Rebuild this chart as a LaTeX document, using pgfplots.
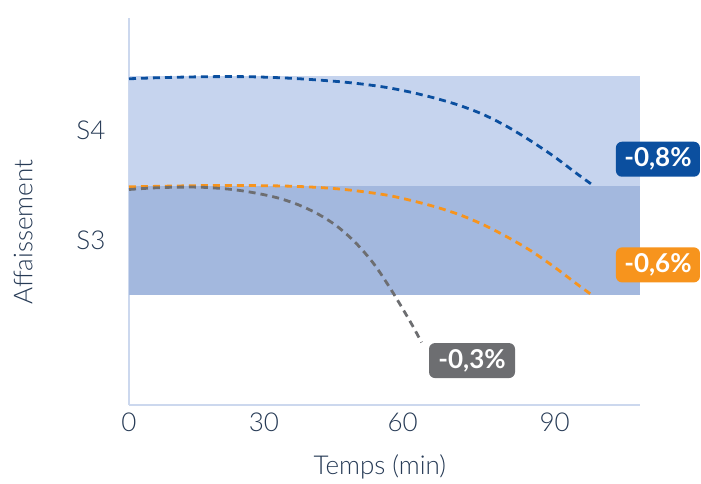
\documentclass[border=0pt]{standalone}
\usepackage{fontspec}
\setmainfont{Lato}[UprightFont=* Light, BoldFont=* Bold]
\usepackage{pgfplots}
\pgfplotsset{compat=1.18}
\definecolor{txt}{HTML}{263A55}
\definecolor{bandA}{HTML}{C6D4EE}
\definecolor{bandB}{HTML}{A3B8DE}
\definecolor{axl}{HTML}{CCD8EE}
\definecolor{cblue}{HTML}{0B4F9F}
\definecolor{corange}{HTML}{F7941D}
\definecolor{cgray}{HTML}{6D6E71}
\begin{document}
\begin{tikzpicture}
\path[use as bounding box] (-129bp,-79bp) rectangle (572bp,405bp);
\begin{axis}[
  at={(0,0)}, anchor=south west,
  scale only axis, width=511bp, height=387bp,
  xmin=0, xmax=108.3, ymin=0, ymax=3.527,
  axis lines=left,
  axis line style={-, draw=axl, line width=1.8bp},
  xtick={0,28.6,58,90.2}, xticklabels={0,30,60,90},
  ytick={1.5,2.5}, yticklabels={S3,S4},
  major tick length=0pt,
  /pgf/number format/assume math mode=true,
  tick label style={font=\fontsize{26bp}{30bp}\selectfont, text=txt},
  xticklabel style={yshift=-4bp},
  yticklabel style={xshift=-20bp},
  xlabel={Temps (min)},
  ylabel={Affaissement},
  label style={font=\fontsize{26bp}{30bp}\selectfont, text=txt},
  xlabel style={at={(axis description cs:0.491,-0.160)}, anchor=center},
  ylabel style={at={(axis description cs:-0.207,0.447)}, anchor=center, rotate=0},
  clip=false,
]
\addplot[fill=bandA, draw=none] coordinates {(0,2) (108.3,2) (108.3,3) (0,3)} -- cycle;
\addplot[fill=bandB, draw=none] coordinates {(0,1) (108.3,1) (108.3,2) (0,2)} -- cycle;
\addplot[cblue, line width=2.8bp, dash pattern=on 7bp off 5bp, smooth] coordinates {
(0,2.973) (5,2.981) (10,2.987) (15,2.991) (20,2.993) (25,2.992) (30,2.986) (35,2.976) (40,2.962) (45,2.945) (50,2.922) (55,2.891) (60,2.848) (65,2.795) (70,2.731) (75,2.649) (80,2.541) (85,2.411) (90,2.267) (95,2.106) (98.1,2.01)};
\addplot[corange, line width=2.8bp, dash pattern=on 7bp off 5bp, smooth] coordinates {
(0,1.988) (5,1.992) (10,1.996) (15,1.999) (20,2.0) (25,2.0) (30,1.998) (35,1.993) (40,1.983) (45,1.967) (50,1.942) (55,1.91) (60,1.862) (65,1.805) (70,1.735) (75,1.645) (80,1.535) (85,1.41) (90,1.262) (95,1.10) (98.1,1.003)};
\addplot[cgray, line width=2.8bp, dash pattern=on 7bp off 5bp, smooth] coordinates {
(0,1.964) (5,1.978) (10,1.985) (15,1.985) (20,1.972) (24,1.952) (28,1.922) (32,1.882) (36,1.823) (40,1.742) (44,1.632) (48,1.48) (52,1.28) (56,1.02) (60,0.73) (62,0.57)};
\node[fill=cblue, text=white, rounded corners=6bp, minimum width=84bp, minimum height=35bp, inner sep=0pt, font=\bfseries\fontsize{26bp}{28bp}\selectfont] at (axis cs:112.1,2.24) {-0,8\%};
\node[fill=corange, text=white, rounded corners=6bp, minimum width=84bp, minimum height=35bp, inner sep=0pt, font=\bfseries\fontsize{26bp}{28bp}\selectfont] at (axis cs:112.1,1.277) {-0,6\%};
\node[fill=cgray, text=white, rounded corners=6bp, minimum width=86bp, minimum height=35bp, inner sep=0pt, font=\bfseries\fontsize{26bp}{28bp}\selectfont] at (axis cs:72.7,0.405) {-0,3\%};
\end{axis}
\end{tikzpicture}
\end{document}
